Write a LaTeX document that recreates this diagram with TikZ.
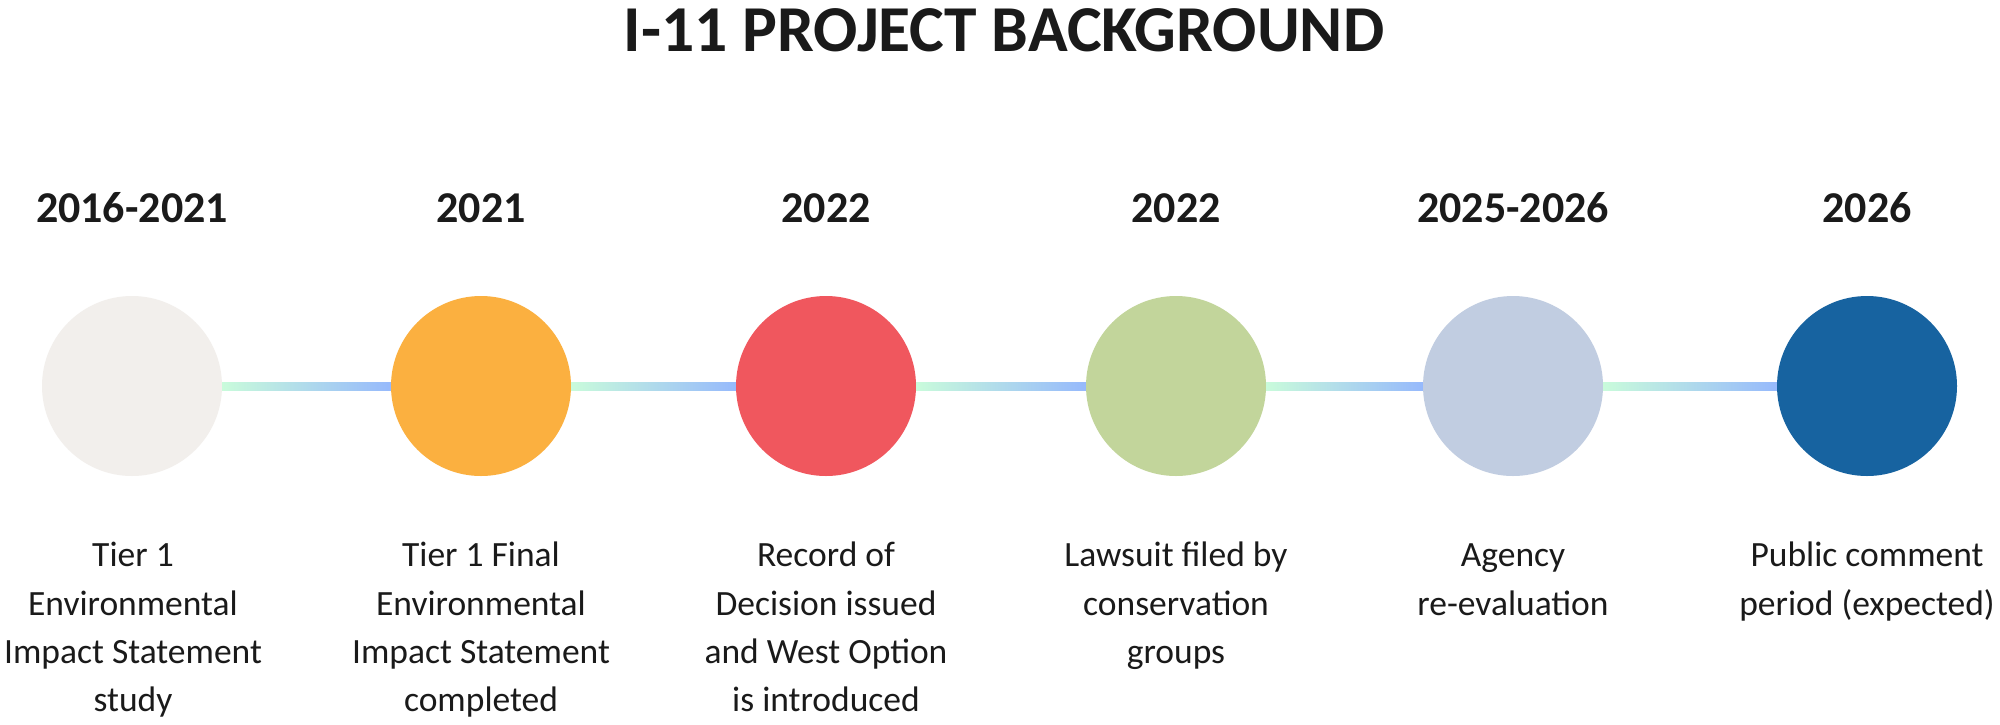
\documentclass[tikz,border=0pt]{standalone}
\usepackage{fontspec}
\setmainfont{Carlito}
\definecolor{ink}{HTML}{1A1A1A}
\definecolor{cA}{HTML}{F2EFEC}
\definecolor{cB}{HTML}{FBB040}
\definecolor{cC}{HTML}{F0575E}
\definecolor{cD}{HTML}{C2D59B}
\definecolor{cE}{HTML}{C1CDE1}
\definecolor{cF}{HTML}{1763A0}
\definecolor{lineL}{HTML}{C9FBDB}
\definecolor{lineR}{HTML}{96B9FC}
\begin{document}
\begin{tikzpicture}[x=1pt,y=-1pt,
  dot/.style={circle, minimum size=180pt, inner sep=0pt},
  yearlbl/.style={font=\fontsize{44}{53}\selectfont\bfseries, anchor=base, text=ink, inner sep=0pt},
  caplbl/.style={font=\fontsize{35.5}{48.3}\selectfont, align=center, anchor=north, inner sep=0pt, text=ink},
  titlelbl/.style={font=\fontsize{65.5}{78}\selectfont\bfseries, anchor=base, text=ink, inner sep=0pt},
  link/.style={left color=lineL, right color=lineR, draw=none}
]
\fill[white] (0,0) rectangle (2000,724);
\useasboundingbox (0,0) rectangle (2000,724);

\node[titlelbl] (title) at (1004,51) {I-11 PROJECT BACKGROUND};

\node[dot, fill=cA] (c1) at (132,386) {};
\node[dot, fill=cB] (c2) at (481,386) {};
\node[dot, fill=cC] (c3) at (826,386) {};
\node[dot, fill=cD] (c4) at (1176,386) {};
\node[dot, fill=cE] (c5) at (1513,386) {};
\node[dot, fill=cF] (c6) at (1867,386) {};

\path[link] ([yshift=4pt]c1.east) rectangle ([yshift=-4pt]c2.west);
\path[link] ([yshift=4pt]c2.east) rectangle ([yshift=-4pt]c3.west);
\path[link] ([yshift=4pt]c3.east) rectangle ([yshift=-4pt]c4.west);
\path[link] ([yshift=4pt]c4.east) rectangle ([yshift=-4pt]c5.west);
\path[link] ([yshift=4pt]c5.east) rectangle ([yshift=-4pt]c6.west);

\node[yearlbl] (y1) at (132,222) {2016-2021};
\node[yearlbl] (y2) at (481,222) {2021};
\node[yearlbl] (y3) at (826,222) {2022};
\node[yearlbl] (y4) at (1176,222) {2022};
\node[yearlbl] (y5) at (1513,222) {2025-2026};
\node[yearlbl] (y6) at (1867,222) {2026};

\node[caplbl] (t1) at (133,532.7) {\strut Tier 1\\Environmental\\Impact Statement\\study};
\node[caplbl] (t2) at (481,532.7) {\strut Tier 1 Final\\Environmental\\Impact Statement\\completed};
\node[caplbl] (t3) at (826,532.7) {\strut Record of\\Decision issued\\and West Option\\is introduced};
\node[caplbl] (t4) at (1176,532.7) {\strut Lawsuit filed by\\conservation\\groups};
\node[caplbl] (t5) at (1513,532.7) {\strut Agency\\re-evaluation};
\node[caplbl] (t6) at (1867,532.7) {\strut Public comment\\period (expected)};
\end{tikzpicture}
\end{document}
